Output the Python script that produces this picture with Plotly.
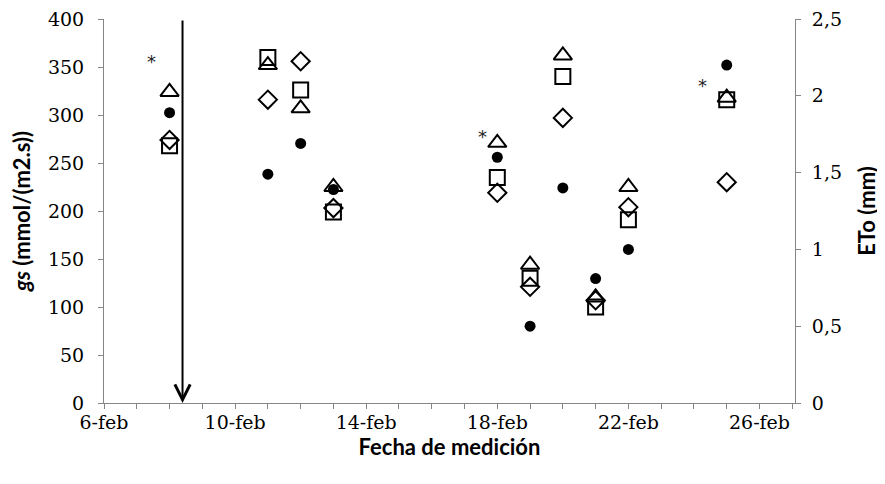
import plotly.graph_objects as go

# ---- data ----
fechas = ["2013-02-08", "2013-02-11", "2013-02-12", "2013-02-13", "2013-02-18",
          "2013-02-19", "2013-02-20", "2013-02-21", "2013-02-22", "2013-02-25"]
gs_triangulo = [324, 352, 307, 225, 271, 144, 362, 110, 225, 318]
gs_cuadrado = [268, 360, 326, 199, 235, 130, 340, 100, 191, 316]
gs_rombo = [274, 316, 356, 203, 219, 121, 297, 107, 204, 230]
eto = [1.89, 1.49, 1.69, 1.39, 1.60, 0.50, 1.40, 0.81, 1.00, 2.20]

tick_fechas = ["2013-02-06", "2013-02-10", "2013-02-14", "2013-02-18", "2013-02-22", "2013-02-26"]
tick_textos = ["6-feb", "10-feb", "14-feb", "18-feb", "22-feb", "26-feb"]

asterisco_x = ["2013-02-07 11:00", "2013-02-17 13:00", "2013-02-24 06:00"]
asterisco_y = [356, 278, 331]

riego_fecha = "2013-02-08 09:30"

# ---- figure ----
fig = go.Figure()

line_k = dict(color="black", width=2)
fig.add_trace(go.Scatter(x=fechas, y=eto, mode="markers", yaxis="y2",
                         marker=dict(symbol="circle", size=11, color="black")))
fig.add_trace(go.Scatter(x=fechas, y=gs_rombo, mode="markers",
                         marker=dict(symbol="diamond-open", size=14, color="black", line=line_k)))
fig.add_trace(go.Scatter(x=fechas, y=gs_cuadrado, mode="markers",
                         marker=dict(symbol="square-open", size=15, color="black", line=line_k)))
fig.add_trace(go.Scatter(x=fechas, y=gs_triangulo, mode="markers",
                         marker=dict(symbol="triangle-up-open", size=16, color="black", line=line_k)))

annotations = []
for ax_, ay_ in zip(asterisco_x, asterisco_y):
    annotations.append(dict(x=ax_, y=ay_, xref="x", yref="y", text="*", showarrow=False,
                            font=dict(family="DejaVu Sans", size=18, color="#222222")))
annotations.append(dict(x=riego_fecha, y=0, ax=riego_fecha, ay=400,
                        xref="x", yref="y", axref="x", ayref="y",
                        text="", showarrow=True, arrowhead=5, arrowsize=1.5,
                        arrowwidth=2, arrowcolor="black", standoff=0, startstandoff=0))

axis_col = "#868686"
tick_font = dict(family="DejaVu Serif", size=19, color="black")
title_font = dict(family="Lato", size=22, color="black")

fig.update_layout(
    width=877, height=468,
    margin=dict(l=96, r=90, t=11, b=73),
    plot_bgcolor="white", paper_bgcolor="white",
    showlegend=False,
    separators=",.",
    annotations=annotations,
    xaxis=dict(
        type="date", automargin=False,
        range=["2013-02-06", "2013-02-27 02:00"],
        tickvals=tick_fechas, ticktext=tick_textos,
        ticks="outside", ticklen=5, tickcolor=axis_col,
        minor=dict(dtick=86400000, ticks="outside", ticklen=5, tickcolor=axis_col, showgrid=False),
        showline=True, linecolor=axis_col, linewidth=1,
        showgrid=False, zeroline=False,
        tickfont=tick_font, ticklabeloverflow="allow", ticklabelstandoff=-3,
        title=dict(text="<b>Fecha de medición</b>", font=title_font, standoff=0),
    ),
    yaxis=dict(
        range=[0, 400], dtick=50, automargin=False,
        ticks="outside", ticklen=5, tickcolor=axis_col,
        showline=True, linecolor=axis_col, linewidth=1,
        showgrid=False, zeroline=False,
        tickfont=tick_font, ticklabeloverflow="allow", ticklabelstandoff=10,
        title=dict(text="<b><i>gs</i> (mmol/(m2.s))</b>", font=title_font, standoff=12),
    ),
    yaxis2=dict(
        overlaying="y", side="right", automargin=False,
        range=[0, 2.5], dtick=0.5,
        ticks="outside", ticklen=5, tickcolor=axis_col,
        showline=True, linecolor=axis_col, linewidth=1,
        showgrid=False, zeroline=False,
        tickfont=tick_font, ticklabeloverflow="allow", ticklabelstandoff=7,
        title=dict(text="<b>ETo (mm)</b>", font=title_font, standoff=18),
    ),
)

fig.write_html("out.html")
